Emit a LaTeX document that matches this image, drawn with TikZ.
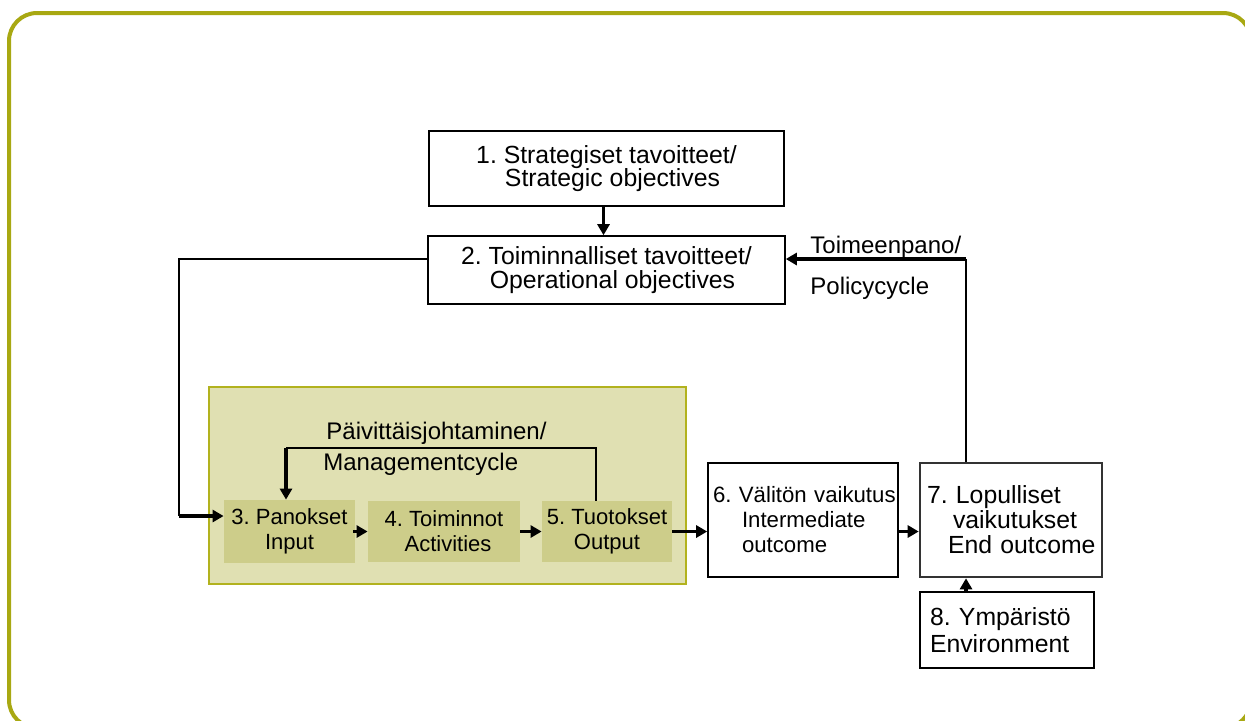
\documentclass[tikz,border=0pt]{standalone}
\usepackage{fontspec}
\setmainfont{Liberation Sans}
\usetikzlibrary{arrows.meta,calc}
\definecolor{frameol}{HTML}{A8A812}
\definecolor{panelfill}{HTML}{E0E0B2}
\definecolor{paneldraw}{HTML}{B2B21E}
\definecolor{boxfill}{HTML}{CDCD8A}
\definecolor{darkbox}{HTML}{333333}
\frenchspacing
\tikzset{
  plainbox/.style={draw=black, line width=0.8pt, fill=white, rectangle, inner sep=0pt, align=center},
  innerbox/.style={fill=boxfill, rectangle, inner sep=0pt, align=center, font=\fontsize{11}{12.5}\selectfont},
  thickarrow/.style={line width=1.8pt, -{Triangle[length=5.5pt,width=6pt]}},
  thinline/.style={line width=0.8pt},
  lbl/.style={inner sep=0pt, anchor=base west, font=\fontsize{12}{14}\selectfont},
}
\begin{document}
\begin{tikzpicture}[x=0.5pt,y=-0.5pt]
\useasboundingbox (0,0) rectangle (1245,720);
% outer frame
\draw[frameol, line width=2pt, rounded corners=14pt] (9,13) rectangle (1251,728);
% panel
\draw[paneldraw, fill=panelfill, line width=1.2pt] (209,387) rectangle (686,584);

% boxes
\node[plainbox, minimum width=177.5pt, minimum height=37.5pt, font=\fontsize{12.4}{11.6}\selectfont] (b1) at (606.5,168.5)
  {1. Strategiset tavoitteet/\\\hspace*{6pt}Strategic objectives};
\node[plainbox, minimum width=178.5pt, minimum height=34pt, font=\fontsize{12.4}{11.6}\selectfont] (b2) at (606.5,270)
  {2. Toiminnalliset tavoitteet/\\\hspace*{6pt}Operational objectives};
\node[innerbox, minimum width=65.5pt, minimum height=31.5pt] (b3) at (289.5,531.5) {3. Panokset\\Input};
\node[innerbox, minimum width=76pt, minimum height=30.5pt] (b4) at (444,531.5) {4. Toiminnot\\\hspace*{4pt}Activities};
\node[innerbox, minimum width=65pt, minimum height=30.5pt] (b5) at (607,531.5) {5. Tuotokset\\Output};
\node[plainbox, align=left, text width=90pt, inner xsep=2.5pt, minimum height=57pt, font=\fontsize{11.1}{12.5}\selectfont] (b6) at (803,520)
  {\mbox{6. Välitön vaikutus}\\\hspace*{14.5pt}Intermediate\\\hspace*{14.5pt}outcome};
\node[plainbox, draw=darkbox, line width=1.3pt, align=left, text width=84pt, inner xsep=3.5pt, minimum height=57pt, font=\fontsize{12.4}{12.5}\selectfont] (b7) at (1011,520)
  {7. Lopulliset\\\hspace*{13pt}vaikutukset\\\hspace*{10.5pt}\mbox{End outcome}};
\node[plainbox, align=left, text width=77pt, inner xsep=5pt, minimum height=38pt, font=\fontsize{12.4}{13.5}\selectfont] (b8) at (1007,630)
  {8. Ympäristö\\Environment};

% labels
\node[lbl] (lpol1) at (810,253) {Toimeenpano/};
\node[lbl] (lpol2) at (810,294) {Policycycle};
\node[lbl] (lman1) at (326,439) {Päivittäisjohtaminen/};
\node[lbl] (lman2) at (323,470) {Managementcycle};

% coordinates
\coordinate (fbA) at (179,259);
\coordinate (fbB) at (179,516);
\coordinate (mA) at (596,448);
\coordinate (mB) at (286,448);
\coordinate (pA) at (966,259);
\coordinate (rowY) at (0,531.5);

% connectors
\draw[thickarrow] ($(b1.south)+(-3,0)$) -- ($(b2.north)+(-3,0)$);
\draw[thinline] (b2.west |- fbA) -- (fbA) -- (fbB);
\draw[thickarrow] (fbB) -- (b3.west |- fbB);
\draw[thinline] (b5.north -| mA) -- (mA) -- (mB);
\draw[thickarrow] (mB) -- (b3.north -| mB);
\draw[thickarrow] ($(b3.east)+(-2,0)$) -- (b4.west);
\draw[thickarrow] (b4.east) -- (b5.west);
\draw[thickarrow] (b5.east) -- (b6.west |- rowY);
\draw[thickarrow] (b6.east |- rowY) -- (b7.west |- rowY);
\draw[thickarrow] (b8.north -| pA) -- (b7.south -| pA);
\draw[thinline] (b7.north -| pA) -- (pA);
\draw[thickarrow] (pA) -- (b2.east |- pA);
\end{tikzpicture}
\end{document}
